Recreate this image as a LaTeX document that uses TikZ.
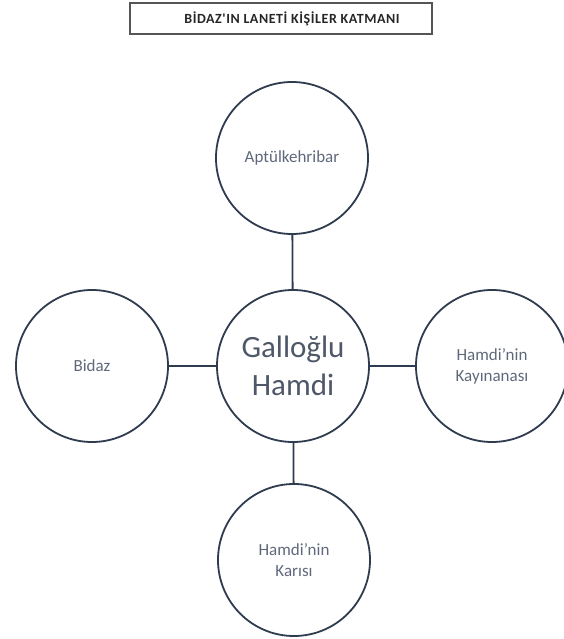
\documentclass[tikz,border=0pt]{standalone}
\usepackage{fontspec}
\setmainfont{Carlito}
\newfontfamily\headingfont[LetterSpace=4]{Carlito}
\definecolor{ring}{HTML}{2F3B4F}
\definecolor{labeltext}{HTML}{5F687B}
\definecolor{maintext}{HTML}{4E5868}
\definecolor{framegray}{HTML}{555555}
\begin{document}
\begin{tikzpicture}[x=1pt,y=-1pt,
  person/.style={circle, draw=ring, line width=1.8pt, minimum size=152pt,
    inner sep=0pt, align=center, text=labeltext,
    font=\fontsize{17}{21}\selectfont},
  link/.style={draw=ring, line width=1.8pt},
  titlebox/.style={draw=framegray, line width=1.2pt, minimum width=302pt,
    minimum height=31pt, inner sep=0pt}]
  \useasboundingbox (0,0) rectangle (563,639);

  % heading frame and its caption
  \node[titlebox] (frame) at (281,18.5) {};
  \node[font=\headingfont\bfseries\fontsize{14}{16}\selectfont, text=black!85] (heading) at (292,18.5)
    {BİDAZ'IN LANETİ KİŞİLER KATMANI};

  % central person and the four around it
  \node[person, text=maintext, font=\fontsize{31}{38}\selectfont] (hamdi) at (293,366)
    {Galloğlu\\Hamdi};
  \node[person] (apt) at (292,158) {Aptülkehribar};
  \node[person] (bidaz) at (92,366) {Bidaz};
  \node[person] (kayin) at (492,366) {Hamdi'nin\\Kayınanası};
  \node[person] (kari) at (294,560) {Hamdi'nin\\Karısı};

  % connectors
  \draw[link] (hamdi) -- (apt);
  \draw[link] (hamdi) -- (bidaz);
  \draw[link] (hamdi) -- (kayin);
  \draw[link] (hamdi) -- (kari);
\end{tikzpicture}
\end{document}
